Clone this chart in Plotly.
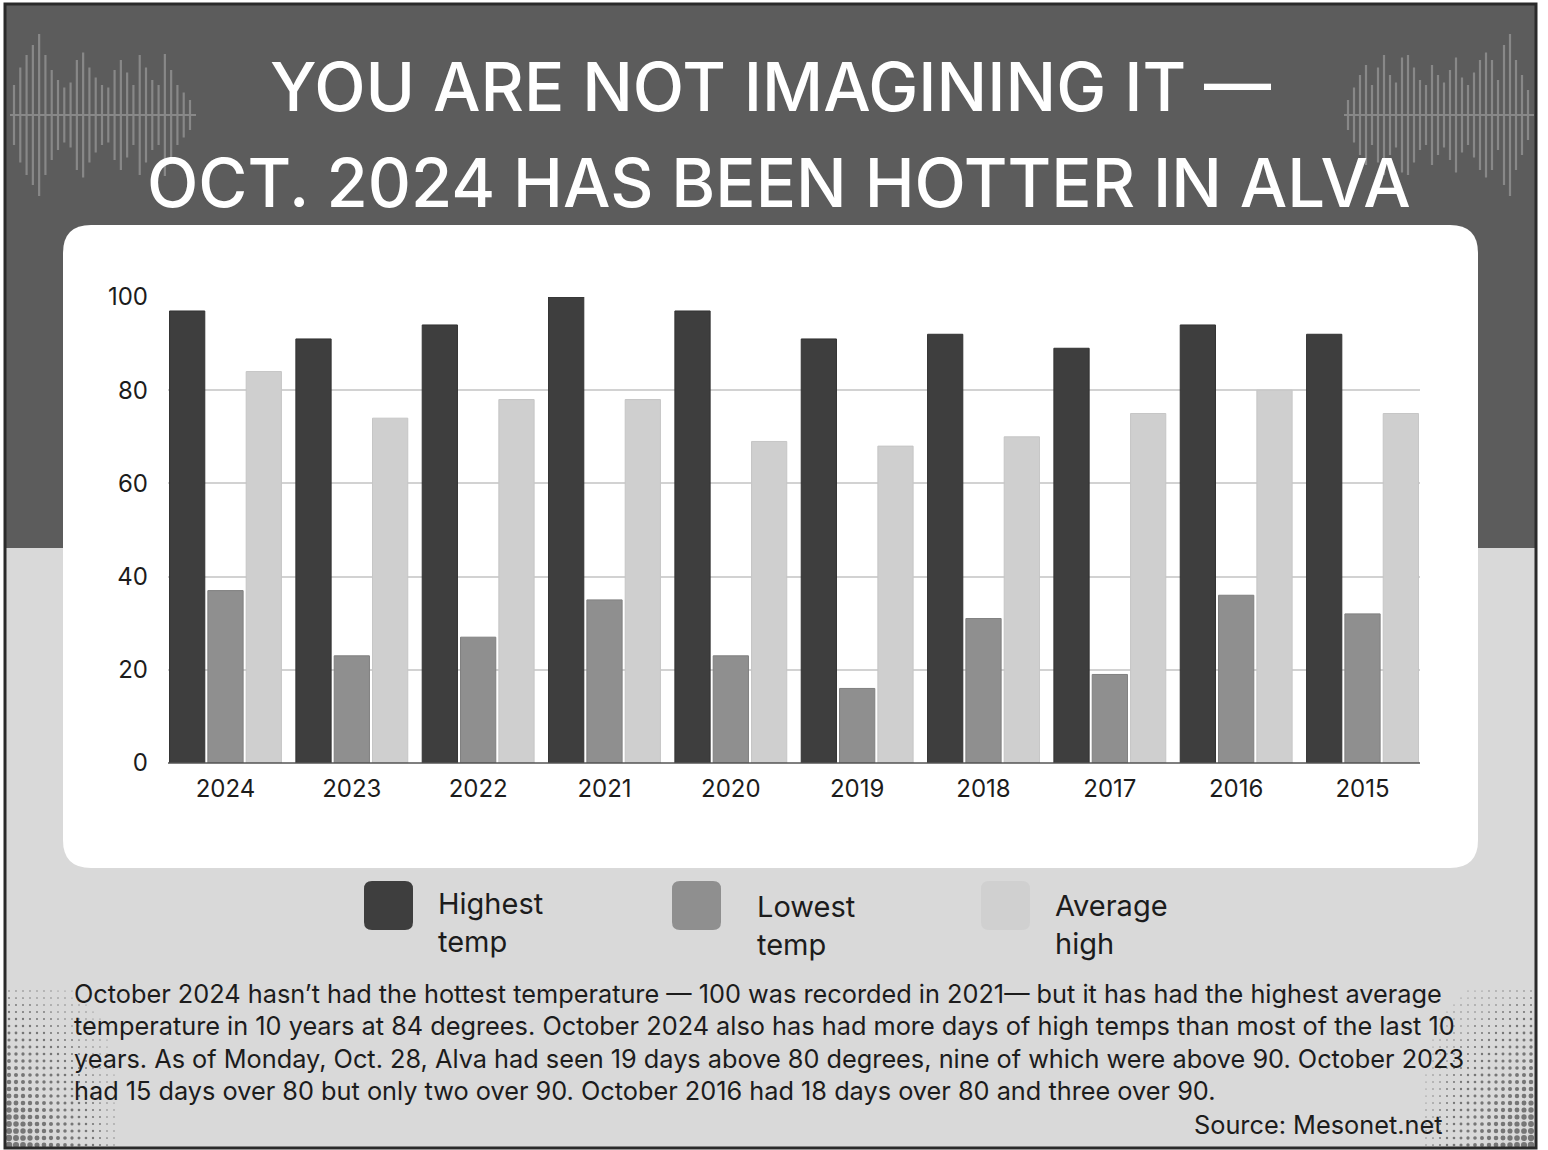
import plotly.graph_objects as go

years = ["2024", "2023", "2022", "2021", "2020", "2019", "2018", "2017", "2016", "2015"]
highest_temp = [97, 91, 94, 100, 97, 91, 92, 89, 94, 92]
lowest_temp = [37, 23, 27, 35, 23, 16, 31, 19, 36, 32]
average_high = [84, 74, 78, 78, 69, 68, 70, 75, 80, 75]
series_names = ["Highest<br>temp", "Lowest<br>temp", "Average<br>high"]
y_ticks = [0, 20, 40, 60, 80, 100]

title_lines = ["YOU ARE NOT IMAGINING IT —", "OCT. 2024 HAS BEEN HOTTER IN ALVA"]
body_lines = [
    "October 2024 hasn’t had the hottest temperature — 100 was recorded in 2021— but it has had the highest average",
    "temperature in 10 years at 84 degrees. October 2024 also has had more days of high temps than most of the last 10",
    "years. As of Monday, Oct. 28, Alva had seen 19 days above 80 degrees, nine of which were above 90. October 2023",
    "had 15 days over 80 but only two over 90. October 2016 had 18 days over 80 and three over 90.",
]
source_text = "Source: Mesonet.net"

C_DARK, C_MID, C_LIGHT = "#3e3e3e", "#8f8f8f", "#cfcfcf"
W, H = 1548, 1150
L, R, T, B = 168, 1420, 297, 763
FONT = "Inter"
TXT = "#1c1c1c"


def px(x):
    return (x - L) / (R - L)


def py(y):
    return (B - y) / (B - T)


fig = go.Figure()
for vals, name, col, edge in [
    (highest_temp, series_names[0], C_DARK, "#333333"),
    (lowest_temp, series_names[1], C_MID, "#808080"),
    (average_high, series_names[2], C_LIGHT, "#c6c6c6"),
]:
    fig.add_trace(go.Bar(x=years, y=vals, name=name, marker=dict(color=col, line=dict(color=edge, width=1))))

shapes = []
# outer frame and backgrounds
shapes.append(dict(type="rect", xref="paper", yref="paper", x0=px(4), x1=px(1537), y0=py(3), y1=py(548),
                   fillcolor="#5c5c5c", line=dict(width=0), layer="below"))
shapes.append(dict(type="rect", xref="paper", yref="paper", x0=px(4), x1=px(1537), y0=py(548), y1=py(1148),
                   fillcolor="#d9d9d9", line=dict(width=0), layer="below"))

# waveform decoration
wave_left = [60, 95, 120, 140, 162, 120, 90, 70, 55, 65, 110, 125, 95, 75, 60, 55, 90, 110, 85, 60, 120, 95, 70, 60, 122, 90, 60, 45, 30]
wave_right = [30, 55, 80, 100, 60, 95, 120, 80, 65, 115, 120, 95, 70, 60, 100, 80, 65, 90, 115, 75, 60, 85, 110, 125, 110, 70, 140, 162, 110, 80, 50]
for xs, xe, hs in [(10, 196, wave_left), (1344, 1534, wave_right)]:
    step = (xe - xs - 10) / (len(hs) - 1)
    for i, h in enumerate(hs):
        x = xs + 4 + i * step
        shapes.append(dict(type="line", xref="paper", yref="paper", x0=px(x), x1=px(x), y0=py(115 - h / 2), y1=py(115 + h / 2),
                           line=dict(color="#888888", width=2.2), layer="below"))
    shapes.append(dict(type="line", xref="paper", yref="paper", x0=px(xs), x1=px(xe), y0=py(115), y1=py(115),
                       line=dict(color="#888888", width=2.2), layer="below"))

# halftone dots bottom corners
for cx0, direction, top in [(9, 1, 985), (1531, -1, 990)]:
    for col in range(17):
        for row in range(24):
            x = cx0 + direction * col * 7
            y = 1145 - row * 7
            if y < top:
                continue
            s = 5.8 * (1 - col / 17) * (1 - row / 26) + 0.7
            if s < 1.1:
                continue
            shapes.append(dict(type="circle", xref="paper", yref="paper",
                               x0=px(x - s / 2), x1=px(x + s / 2), y0=py(y - s / 2), y1=py(y + s / 2),
                               fillcolor="#767676", line=dict(width=0), layer="below"))

# frame
shapes.append(dict(type="rect", xref="paper", yref="paper", x0=px(5), x1=px(1536), y0=py(4), y1=py(1148),
                   fillcolor="rgba(0,0,0,0)", line=dict(color="#2a2a2a", width=3), layer="below"))

# white rounded panel
x0, x1, y0, y1, r = 63, 1478, 225, 868, 28
path = (f"M {px(x0 + r)},{py(y0)} L {px(x1 - r)},{py(y0)} "
        f"Q {px(x1)},{py(y0)} {px(x1)},{py(y0 + r)} L {px(x1)},{py(y1 - r)} "
        f"Q {px(x1)},{py(y1)} {px(x1 - r)},{py(y1)} L {px(x0 + r)},{py(y1)} "
        f"Q {px(x0)},{py(y1)} {px(x0)},{py(y1 - r)} L {px(x0)},{py(y0 + r)} "
        f"Q {px(x0)},{py(y0)} {px(x0 + r)},{py(y0)} Z")
shapes.append(dict(type="path", xref="paper", yref="paper", path=path, fillcolor="white", line=dict(width=0), layer="below"))

# baseline
shapes.append(dict(type="line", xref="paper", yref="paper", x0=0, x1=1, y0=0, y1=0, line=dict(color="#555555", width=1.5)))

annotations = []
annotations.append(dict(text=title_lines[0], xref="paper", yref="paper", x=px(770), y=py(86), xanchor="center", yanchor="middle",
                        showarrow=False, font=dict(family=FONT, size=67, color="white", weight=500)))
annotations.append(dict(text=title_lines[1], xref="paper", yref="paper", x=px(779), y=py(183), xanchor="center", yanchor="middle",
                        showarrow=False, font=dict(family=FONT, size=67, color="white", weight=500)))

# legend
leg_x = [364, 672, 981]
leg_tx = [436, 755, 1053]
leg_ty = [922, 925, 924]
leg_cols = [C_DARK, C_MID, "#d0d0d0"]
for lx, tx, ty, col, name in zip(leg_x, leg_tx, leg_ty, leg_cols, series_names):
    rr = 8
    a0, a1, b0, b1 = lx, lx + 49, 881, 930
    p = (f"M {px(a0 + rr)},{py(b0)} L {px(a1 - rr)},{py(b0)} Q {px(a1)},{py(b0)} {px(a1)},{py(b0 + rr)} "
         f"L {px(a1)},{py(b1 - rr)} Q {px(a1)},{py(b1)} {px(a1 - rr)},{py(b1)} L {px(a0 + rr)},{py(b1)} "
         f"Q {px(a0)},{py(b1)} {px(a0)},{py(b1 - rr)} L {px(a0)},{py(b0 + rr)} Q {px(a0)},{py(b0)} {px(a0 + rr)},{py(b0)} Z")
    shapes.append(dict(type="path", xref="paper", yref="paper", path=p, fillcolor=col, line=dict(width=0)))
    annotations.append(dict(text=name, xref="paper", yref="paper", x=px(tx), y=py(ty), xanchor="left", yanchor="middle",
                            align="left", showarrow=False, font=dict(family=FONT, size=29, color=TXT)))

for i, line in enumerate(body_lines):
    annotations.append(dict(text=line, xref="paper", yref="paper", x=px(72), y=py(993 + i * 32.5), xanchor="left", yanchor="middle",
                            showarrow=False, font=dict(family=FONT, size=25.3, color=TXT)))
annotations.append(dict(text=source_text, xref="paper", yref="paper", x=px(1444), y=py(1124), xanchor="right", yanchor="middle",
                        showarrow=False, font=dict(family=FONT, size=25.3, color=TXT)))

fig.update_layout(
    width=W, height=H,
    margin=dict(l=L, r=W - R, t=T, b=H - B, pad=0),
    paper_bgcolor="white", plot_bgcolor="rgba(0,0,0,0)",
    barmode="group", bargap=0.09, bargroupgap=0.08,
    showlegend=False,
    shapes=shapes, annotations=annotations,
    font=dict(family=FONT, color=TXT),
)
fig.update_xaxes(type="category", range=[-0.455, 9.455], showgrid=False, zeroline=False, showline=False,
                 ticks="", ticklabelstandoff=9, tickfont=dict(size=24, color=TXT, family=FONT))
fig.update_yaxes(range=[0, 100], tickvals=y_ticks, showgrid=True, gridcolor="#d2d2d2", gridwidth=1.5, zeroline=False,
                 showline=False, ticks="", ticklabelstandoff=19, tickfont=dict(size=24, color=TXT, family=FONT))

fig.write_html("out.html", config={"displayModeBar": False},
               post_script="document.body.style.margin='0';")
